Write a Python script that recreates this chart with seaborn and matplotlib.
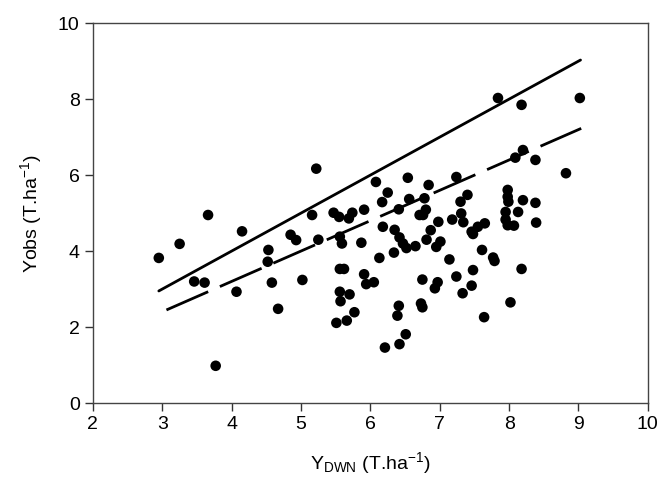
import matplotlib
matplotlib.use('Agg')
import matplotlib.pyplot as plt
import seaborn as sns
import pandas as pd

y_dwn = [2.95, 3.25, 3.46, 3.61, 3.66, 3.77, 4.07, 4.15, 4.53, 4.52, 4.58, 4.67,
         4.85, 4.93, 5.02, 5.16, 5.22, 5.25, 5.47, 5.55, 5.69, 5.74, 5.91, 5.56,
         5.59, 5.87, 5.56, 5.62, 5.91, 5.94, 6.05, 5.56, 5.57, 5.70, 5.77, 5.66,
         5.51, 6.08, 6.25, 6.17, 6.54, 6.41, 6.56, 6.78, 6.84, 6.80, 6.71, 6.76,
         7.24, 6.98, 7.18, 7.30, 6.18, 6.35, 6.42, 6.47, 6.52, 6.65, 6.34, 6.13,
         6.87, 6.81, 7.01, 6.95, 7.14, 6.75, 6.97, 6.93, 6.41, 6.39, 6.73, 6.75,
         6.51, 6.42, 6.21, 7.84, 8.18, 9.02, 8.20, 8.09, 8.38, 8.82, 7.40, 7.31,
         7.34, 7.65, 7.55, 7.46, 7.48, 7.98, 7.98, 7.99, 8.20, 8.38, 7.95, 8.13,
         7.95, 7.98, 8.07, 8.39, 7.61, 7.77, 7.79, 7.48, 7.24, 7.46, 7.33, 8.18,
         8.02, 7.64]
y_obs = [3.82, 4.19, 3.20, 3.17, 4.95, 0.98, 2.93, 4.52, 4.03, 3.72, 3.17, 2.48,
         4.43, 4.29, 3.24, 4.95, 6.17, 4.30, 5.01, 4.90, 4.86, 5.01, 5.09, 4.38,
         4.20, 4.22, 3.53, 3.53, 3.39, 3.13, 3.18, 2.93, 2.68, 2.86, 2.39, 2.17,
         2.11, 5.82, 5.54, 5.29, 5.93, 5.10, 5.37, 5.39, 5.74, 5.09, 4.95, 4.95,
         5.95, 4.77, 4.83, 5.30, 4.64, 4.56, 4.36, 4.20, 4.08, 4.13, 3.96, 3.82,
         4.55, 4.30, 4.25, 4.11, 3.78, 3.25, 3.18, 3.02, 2.56, 2.30, 2.62, 2.52,
         1.81, 1.55, 1.46, 8.03, 7.85, 8.03, 6.66, 6.46, 6.40, 6.05, 5.48, 4.99,
         4.76, 4.73, 4.64, 4.51, 4.45, 5.61, 5.43, 5.30, 5.34, 5.27, 5.03, 5.03,
         4.83, 4.68, 4.67, 4.75, 4.03, 3.83, 3.74, 3.50, 3.33, 3.09, 2.89, 3.53,
         2.65, 2.26]

# 1:1 line and 0.8 line endpoints
line11_x = [2.95, 9.03]
line11_y = [2.95, 9.03]
line08_x = [3.06, 9.04]
line08_y = [2.45, 7.23]

df = pd.DataFrame({'Y_DWN': y_dwn, 'Yobs': y_obs})

sns.set_style('ticks')
plt.rcParams['font.family'] = ['Liberation Sans', 'DejaVu Sans']
plt.rcParams['mathtext.default'] = 'regular'
plt.rcParams['text.color'] = 'black'
plt.rcParams['axes.labelcolor'] = 'black'
plt.rcParams['xtick.color'] = 'black'
plt.rcParams['ytick.color'] = 'black'

fig = plt.figure(figsize=(6.59, 4.83), dpi=100)
ax = fig.add_axes([0.141, 0.1656, 0.842, 0.7864])

sns.lineplot(x=line11_x, y=line11_y, ax=ax, color='black', lw=2)
sns.lineplot(x=line08_x, y=line08_y, ax=ax, color='black', lw=2)
ax.lines[-1].set_dashes([16.4, 4.6])
sns.scatterplot(x='Y_DWN', y='Yobs', data=df, ax=ax, color='black', s=58,
                edgecolor='none', zorder=3)

ax.set_xlim(2, 10)
ax.set_ylim(0, 10)
ax.set_xticks(range(2, 11))
ax.set_yticks(range(0, 11, 2))
ax.tick_params(direction='out', length=6, width=1, labelsize=14,
               color='#333333', labelcolor='black')
for s in ax.spines.values():
    s.set_visible(True)
    s.set_linewidth(1)
    s.set_color('#444444')

ax.set_xlabel('Y$_{DWN}$ (T.ha$^{-1}$)', fontsize=14, labelpad=12)
ax.set_ylabel('Yobs (T.ha$^{-1}$)', fontsize=14, labelpad=10)

fig.savefig('out.png', dpi=100)
